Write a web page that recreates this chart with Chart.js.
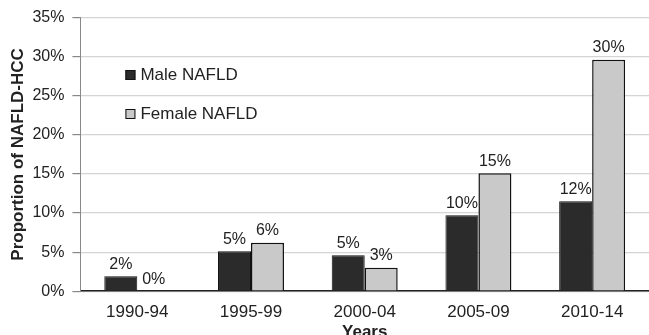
<!DOCTYPE html>
<html>
<head>
<meta charset="utf-8">
<script src="https://cdn.jsdelivr.net/npm/chart.js@4"></script>
<style>
  html, body { margin: 0; padding: 0; background: #fff; }
  #wrap { width: 649px; height: 335px; position: relative; }
</style>
</head>
<body>
<div id="wrap"><canvas id="chart"></canvas></div>
<script>
const categories = ['1990-94', '1995-99', '2000-04', '2005-09', '2010-14'];
const maleNafld = [1.9, 5.1, 4.6, 9.7, 11.5];
const femaleNafld = [0, 6.2, 3.0, 15.1, 29.6];
const yTicks = [0, 5, 10, 15, 20, 25, 30, 35];

const FONT = '"Liberation Sans", Arial, sans-serif';

// value labels above each bar
const barLabels = {
  id: 'barLabels',
  afterDatasetsDraw(chart) {
    const ctx = chart.ctx;
    ctx.save();
    ctx.font = '16px ' + FONT;
    ctx.fillStyle = '#222';
    ctx.textAlign = 'center';
    ctx.textBaseline = 'bottom';
    chart.data.datasets.forEach((ds, i) => {
      chart.getDatasetMeta(i).data.forEach((bar, j) => {
        ctx.fillText(Math.round(ds.data[j]) + '%', bar.x, bar.y - 4);
      });
    });
    ctx.restore();
  }
};

// legend sits inside the plot, upper left
const innerLegend = {
  id: 'innerLegend',
  afterDraw(chart) {
    const ctx = chart.ctx;
    const x = chart.chartArea.left + 45;
    const rows = [75, 114];
    ctx.save();
    ctx.font = '17px ' + FONT;
    ctx.textBaseline = 'middle';
    chart.data.datasets.forEach((ds, i) => {
      const y = rows[i];
      ctx.fillStyle = ds.backgroundColor;
      ctx.fillRect(x, y - 5, 10, 10);
      ctx.strokeStyle = '#111';
      ctx.lineWidth = 1;
      ctx.strokeRect(x + 0.5, y - 4.5, 9, 9);
      ctx.fillStyle = '#222';
      ctx.fillText(ds.label, x + 15, y);
    });
    ctx.restore();
  }
};

new Chart(document.getElementById('chart').getContext('2d'), {
  type: 'bar',
  data: {
    labels: categories,
    datasets: [
      { label: 'Male NAFLD', data: maleNafld, backgroundColor: '#2b2b2b', borderColor: '#111', borderWidth: 1 },
      { label: 'Female NAFLD', data: femaleNafld, backgroundColor: '#c9c9c9', borderColor: '#111', borderWidth: 1.5 }
    ]
  },
  options: {
    responsive: true,
    maintainAspectRatio: false,
    animation: false,
    categoryPercentage: 0.58,
    barPercentage: 1,
    layout: { padding: { top: 7, right: 0, left: 4, bottom: -8 } },
    plugins: { legend: { display: false }, tooltip: { enabled: false } },
    scales: {
      x: {
        grid: { display: false, drawTicks: false },
        border: { color: '#222', width: 1.5 },
        ticks: { color: '#222', font: { size: 17, family: FONT }, padding: 11, maxRotation: 0 },
        title: { display: true, text: 'Years', color: '#222', font: { size: 17, weight: 'bold', family: FONT }, padding: { top: -11, bottom: 0 } }
      },
      y: {
        min: 0, max: 35,
        afterBuildTicks: axis => { axis.ticks = yTicks.map(v => ({ value: v })); },
        grid: { color: '#d4d4d4', lineWidth: 1.2, tickLength: 8, tickColor: '#888' },
        border: { color: '#888', width: 1 },
        ticks: { color: '#222', font: { size: 16, family: FONT }, padding: 8, callback: v => v + '%' },
        title: { display: true, text: 'Proportion of NAFLD-HCC', color: '#222', font: { size: 17, weight: 'bold', family: FONT }, padding: { top: 4, bottom: -4 } }
      }
    }
  },
  plugins: [barLabels, innerLegend]
});
</script>
</body>
</html>
